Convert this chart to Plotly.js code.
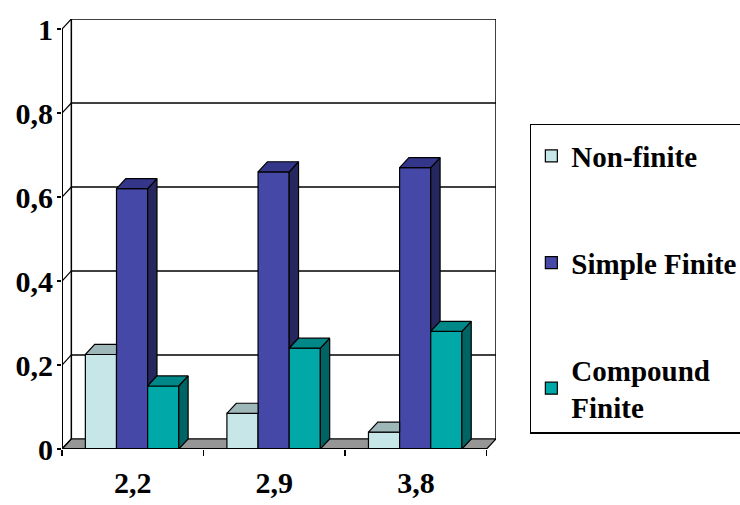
<!DOCTYPE html>
<html>
<head>
<meta charset="utf-8">
<script src="https://cdn.plot.ly/plotly-3.0.1.min.js"></script>
<style>html,body{margin:0;padding:0;background:#fff;}#chart{width:740px;height:505px;}</style>
</head>
<body>
<div id="chart"></div>
<script>
// ---- data ----
const categories = ['2,2', '2,9', '3,8'];
const seriesNames = ['Non-finite', 'Simple Finite', 'Compound<br>Finite'];
const nonFinite = [0.225, 0.085, 0.04];
const simpleFinite = [0.62, 0.66, 0.67];
const compoundFinite = [0.15, 0.24, 0.28];
const yTickVals = [0, 0.2, 0.4, 0.6, 0.8, 1];
const yTickText = ['0', '0,2', '0,4', '0,6', '0,8', '1'];

// ---- style ----
const frontColors = ['#C6E6E8', '#4648A8', '#00A8A8'];
const topColors = ['#9EB8BA', '#34368A', '#008888'];
const sideColors = ['#8EA6A8', '#26275E', '#006464'];
const W = 0.22;
const offsets = [-0.335, -0.115, 0.105];
const DX = 0.066, DY = 0.024;
const FAM = '"Liberation Serif", "Times New Roman", serif';
const font = {family: FAM, size: 30, color: '#000', weight: 'bold'};

const series = [nonFinite, simpleFinite, compoundFinite];
const xs = categories.map((c, i) => i);
const traces = [];
series.forEach((vals, s) => {
  traces.push({
    type: 'bar', name: seriesNames[s], x: xs, y: vals,
    width: W, offset: offsets[s],
    marker: {color: frontColors[s], line: {color: '#000', width: 1.2}},
    legendgroup: 'g' + s, hoverinfo: 'skip'
  });
});

function poly(pts, color) {
  traces.push({
    type: 'scatter', mode: 'lines', x: pts.map(p => p[0]).concat([pts[0][0]]),
    y: pts.map(p => p[1]).concat([pts[0][1]]), fill: 'toself', fillcolor: color,
    line: {color: '#000', width: 1.2}, showlegend: false, hoverinfo: 'skip'
  });
}
xs.forEach(c => {
  series.forEach((vals, s) => {
    const v = vals[c];
    const x0 = c + offsets[s], x1 = x0 + W;
    const hasNext = s < series.length - 1;
    const vn = hasNext ? series[s + 1][c] : 0;
    if (hasNext && vn < v) {
      poly([[x1, vn], [x1, v], [x1 + DX, v + DY], [x1 + DX, vn + DY]], sideColors[s]);
    } else if (!hasNext) {
      poly([[x1, 0], [x1, v], [x1 + DX, v + DY], [x1 + DX, DY]], sideColors[s]);
    }
    if (hasNext && vn > v) {
      poly([[x0, v], [x1, v], [x1, v + DY], [x0 + DX, v + DY]], topColors[s]);
    } else {
      poly([[x0, v], [x1, v], [x1 + DX, v + DY], [x0 + DX, v + DY]], topColors[s]);
    }
  });
});

const xMin = -0.5, xMax = categories.length - 0.5;
const shapes = [];
const ln = {color: '#000', width: 1.5};
// floor
shapes.push({type: 'path', layer: 'below', xref: 'x', yref: 'y',
  path: `M${xMin},0 L${xMax},0 L${xMax + DX},${DY} L${xMin + DX},${DY} Z`,
  fillcolor: '#969696', line: {color: '#000', width: 1.2}});
// back wall gridlines + side diagonals
yTickVals.forEach(v => {
  if (v > 0) shapes.push({type: 'line', layer: 'below', xref: 'x', yref: 'y', x0: xMin + DX, x1: xMax + DX, y0: v + DY, y1: v + DY, line: ln});
  shapes.push({type: 'line', layer: 'below', xref: 'x', yref: 'y', x0: xMin, x1: xMin + DX, y0: v, y1: v + DY, line: {color: '#000', width: 1.2}});
});
shapes.push({type: 'line', layer: 'below', xref: 'x', yref: 'y', x0: xMin + DX, x1: xMin + DX, y0: DY, y1: 1 + DY, line: ln});
shapes.push({type: 'line', layer: 'below', xref: 'x', yref: 'y', x0: xMax + DX, x1: xMax + DX, y0: DY, y1: 1 + DY, line: ln});
// front axes
shapes.push({type: 'line', layer: 'above', xref: 'x', yref: 'y', x0: xMin, x1: xMin, y0: 0, y1: 1, line: {color: '#000', width: 2}});
shapes.push({type: 'line', layer: 'above', xref: 'x', yref: 'y', x0: xMin, x1: xMax, y0: 0, y1: 0, line: {color: '#000', width: 2}});

const layout = {
  width: 740, height: 505,
  margin: {l: 62, r: 244, t: 19, b: 56, autoexpand: false},
  paper_bgcolor: '#fff', plot_bgcolor: '#fff',
  barmode: 'overlay', hovermode: false,
  font: font,
  xaxis: {
    range: [xMin, xMax + DX], showgrid: false, zeroline: false, showline: false,
    tickmode: 'array', tickvals: xs, ticktext: categories, ticks: '',
    tickfont: font, ticklabelstandoff: 13,
    minor: {tickmode: 'array', tickvals: [-0.5, 0.5, 1.5, 2.5], ticks: 'outside', ticklen: 6, tickwidth: 1.5, tickcolor: '#000', showgrid: false}
  },
  yaxis: {
    range: [0, 1 + DY], showgrid: false, zeroline: false, showline: false,
    tickmode: 'array', tickvals: yTickVals, ticktext: yTickText,
    ticks: 'outside', ticklen: 4, tickwidth: 1.5, tickcolor: '#000',
    tickfont: font, ticklabelstandoff: -2
  },
  shapes: shapes,
  showlegend: true,
  legend: {
    x: 1.078, y: 0.756, xanchor: 'left', yanchor: 'top',
    bgcolor: '#fff', bordercolor: '#000', borderwidth: 1.5,
    font: {family: FAM, size: 29, color: '#000', weight: 'bold'},
    title: {text: ' ', font: {size: 4}},
    traceorder: 'grouped', tracegroupgap: 66
  }
};
Plotly.newPlot('chart', traces, layout, {displayModeBar: false, staticPlot: true});
</script>
</body>
</html>
